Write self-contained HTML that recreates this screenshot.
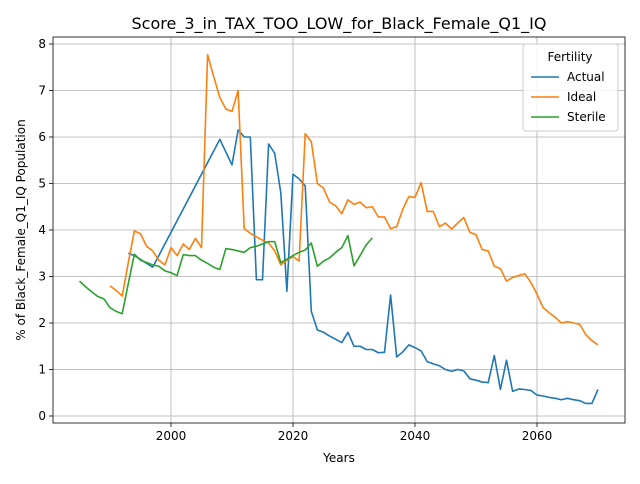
<!DOCTYPE html>
<html><head><meta charset="utf-8"><style>
body{margin:0;background:#fff;font-family:"DejaVu Sans","Liberation Sans",sans-serif}
svg text{font-family:"DejaVu Sans","Liberation Sans",sans-serif}
</style></head><body>
<svg id="chart" width="640" height="480" xmlns="http://www.w3.org/2000/svg"></svg>
<script>
const actualYears=[1993,1994,1997,2008,2010,2011,2012,2013,2014,2015,2016,2017,2018,2019,2020,2021,2022,2023,2024,2025,2026,2027,2028,2029,2030,2031,2032,2033,2034,2035,2036,2037,2038,2039,2040,2041,2042,2043,2044,2045,2046,2047,2048,2049,2050,2051,2052,2053,2054,2055,2056,2057,2058,2059,2060,2061,2062,2063,2064,2065,2066,2067,2068,2069,2070];
const actualValues=[3.5,3.45,3.2,5.95,5.4,6.15,6.0,6.0,2.93,2.93,5.85,5.65,4.8,2.68,5.2,5.1,4.95,2.25,1.85,1.8,1.72,1.65,1.58,1.8,1.5,1.5,1.43,1.43,1.36,1.37,2.6,1.27,1.38,1.53,1.47,1.4,1.17,1.12,1.08,1.0,0.96,1.0,0.97,0.8,0.77,0.73,0.72,1.3,0.57,1.2,0.53,0.58,0.57,0.55,0.45,0.43,0.4,0.38,0.35,0.38,0.35,0.33,0.27,0.27,0.57];
const idealStart=1990;
const idealValues=[2.8,2.7,2.58,3.3,3.98,3.92,3.65,3.55,3.35,3.25,3.62,3.45,3.7,3.58,3.82,3.62,7.77,7.3,6.85,6.6,6.55,7.0,4.03,3.93,3.85,3.78,3.72,3.55,3.25,3.35,3.43,3.33,6.07,5.9,5.0,4.9,4.6,4.52,4.35,4.65,4.55,4.6,4.48,4.5,4.28,4.28,4.03,4.07,4.45,4.72,4.7,5.02,4.4,4.4,4.07,4.15,4.02,4.15,4.27,3.95,3.9,3.58,3.55,3.22,3.17,2.9,2.98,3.02,3.06,2.87,2.62,2.33,2.22,2.12,2.0,2.03,2.0,1.97,1.75,1.62,1.53];
const sterileStart=1985;
const sterileValues=[2.9,2.78,2.67,2.57,2.52,2.33,2.25,2.2,2.85,3.48,3.35,3.3,3.25,3.22,3.12,3.08,3.02,3.47,3.45,3.45,3.35,3.28,3.2,3.15,3.6,3.58,3.55,3.52,3.62,3.65,3.7,3.75,3.75,3.3,3.37,3.45,3.52,3.57,3.72,3.22,3.33,3.4,3.52,3.62,3.88,3.23,3.45,3.68,3.83];
const xTicks=[2000,2020,2040,2060];
const yTicks=[0,1,2,3,4,5,6,7,8];

const L=53,R=625,T=37,B=423;
const X=y=>171+(y-2000)*6.1;
const Y=v=>416-v*46.5;
const svg=document.getElementById('chart');
const NS='http://www.w3.org/2000/svg';
function mk(tag,attrs,parent){const e=document.createElementNS(NS,tag);for(const k in attrs)e.setAttribute(k,attrs[k]);(parent||svg).appendChild(e);return e;}

const grid=mk('g',{});


xTicks.forEach(t=>{
  mk('line',{x1:X(t),x2:X(t),y1:T,y2:B,stroke:'#b0b0b0','stroke-width':0.8},grid);
  mk('line',{x1:X(t),x2:X(t),y1:B,y2:B+4,stroke:'#000','stroke-width':0.8});
  const tx=mk('text',{x:X(t),y:B+17,'font-size':12,'text-anchor':'middle'});
  
  
  tx.textContent=t;
});
yTicks.forEach(t=>{
  mk('line',{x1:L,x2:R,y1:Y(t),y2:Y(t),stroke:'#b0b0b0','stroke-width':0.8},grid);
  mk('line',{x1:L-4,x2:L,y1:Y(t),y2:Y(t),stroke:'#000','stroke-width':0.8});
  const tx=mk('text',{x:L-7,y:Y(t)+4,'font-size':12,'text-anchor':'end'});
  
  
  tx.textContent=t;
});

function line(xs,vs,color,name){
  const p=mk('polyline',{points:xs.map((x,i)=>X(x)+','+Y(vs[i])).join(' '),fill:'none',stroke:color,'stroke-width':1.6,'stroke-linejoin':'round'});
  
  
}
line(actualYears,actualValues,'#1f77b4','actual-line');
line(idealValues.map((_,i)=>idealStart+i),idealValues,'#ff7f0e','ideal-line');
line(sterileValues.map((_,i)=>sterileStart+i),sterileValues,'#2ca02c','sterile-line');

const frame=mk('rect',{x:L,y:T,width:R-L,height:B-T,fill:'none',stroke:'#000','stroke-width':0.8});



const title=mk('text',{x:339,y:29,'font-size':16,'text-anchor':'middle'});


title.textContent='Score_3_in_TAX_TOO_LOW_for_Black_Female_Q1_IQ';
const xl=mk('text',{x:339,y:462,'font-size':12,'text-anchor':'middle'});


xl.textContent='Years';
const yl=mk('text',{x:0,y:0,'font-size':12,'text-anchor':'middle',transform:'translate(25,230) rotate(-90)'});


yl.textContent='% of Black_Female_Q1_IQ Population';

const lg=mk('g',{});


mk('rect',{x:523,y:44,width:95,height:87,rx:3,fill:'#fff','fill-opacity':0.8,stroke:'#ccc'},lg);
const lt=mk('text',{x:570,y:61,'font-size':12,'text-anchor':'middle'},lg);
lt.textContent='Fertility';
[['Actual','#1f77b4'],['Ideal','#ff7f0e'],['Sterile','#2ca02c']].forEach((e,i)=>{
  const g=mk('g',{},lg);
  
  
  const yy=77+i*20;
  mk('line',{x1:531,x2:559,y1:yy,y2:yy,stroke:e[1],'stroke-width':1.6},g);
  const t=mk('text',{x:567,y:yy+4,'font-size':12},g);
  t.textContent=e[0];
});
</script>
</body></html>
